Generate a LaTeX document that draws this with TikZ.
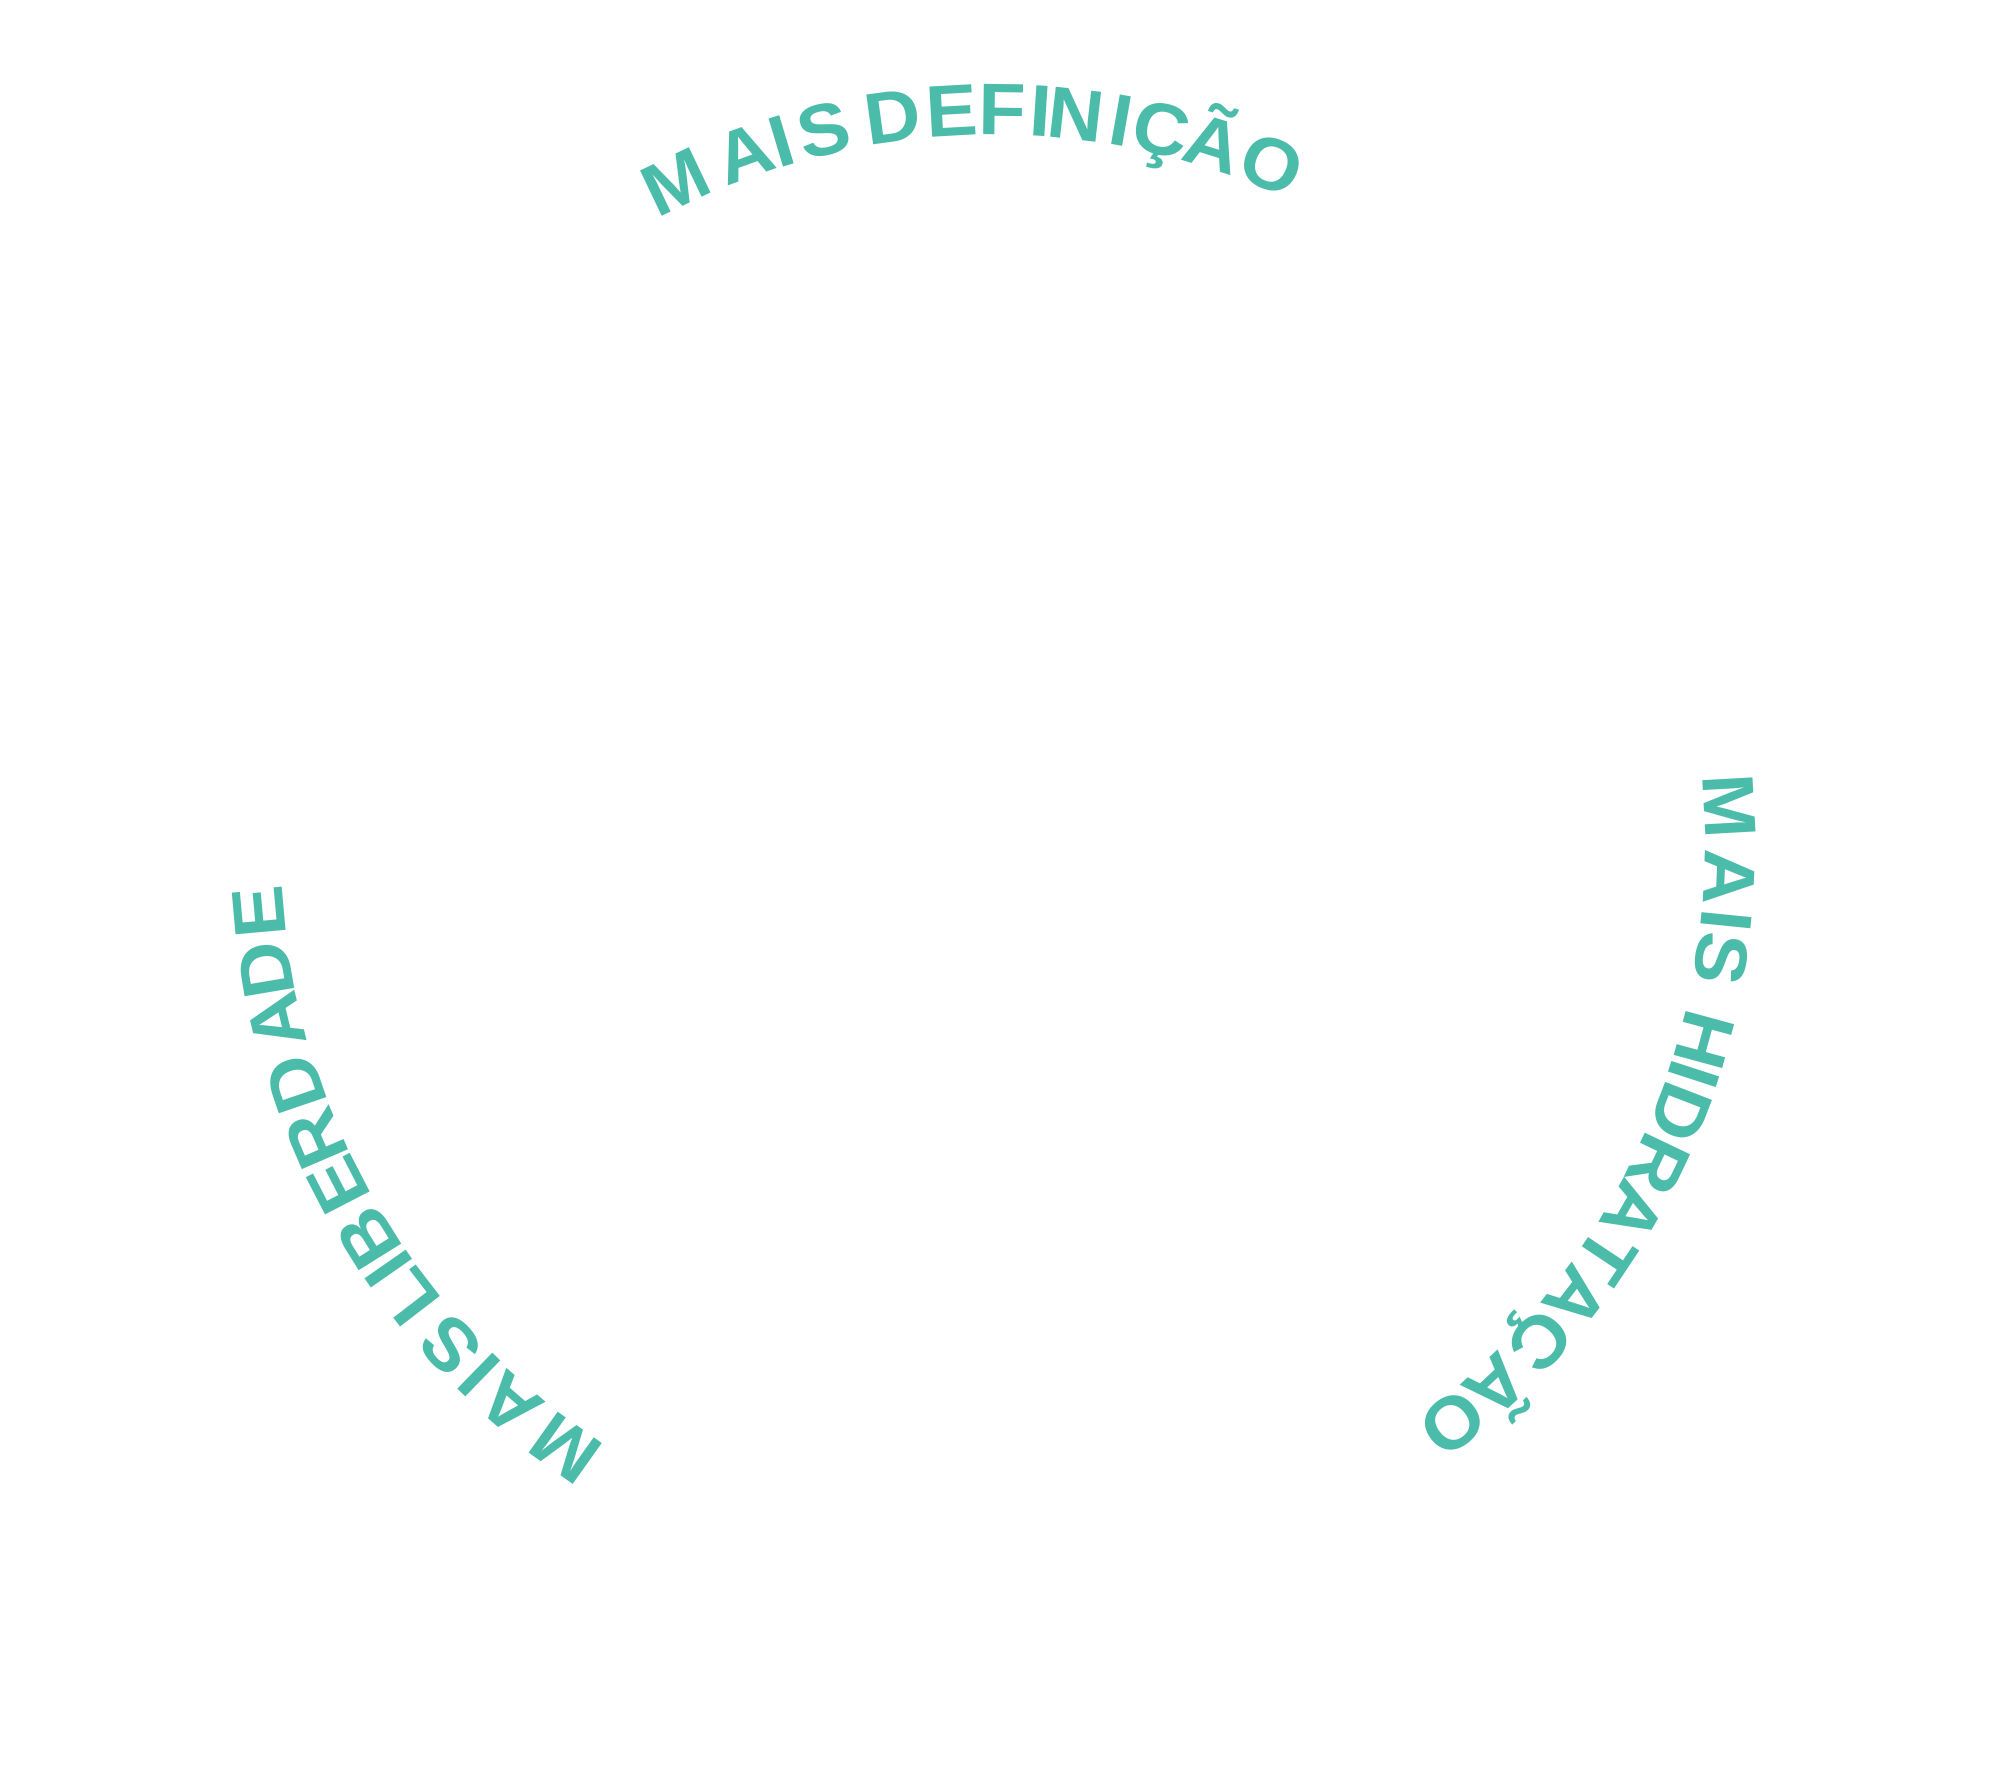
\documentclass[tikz,border=0pt]{standalone}
\usepackage{fontspec}
\setmainfont{Liberation Sans}[FakeStretch=1.06]
\definecolor{tealtxt}{RGB}{74,188,169}
\begin{document}
\begin{tikzpicture}[x=0.5pt,y=0.5pt,
  lett/.style={text=tealtxt, font=\fontsize{36.5}{44}\selectfont\bfseries, anchor=base, inner sep=0pt, outer sep=0pt}]
\useasboundingbox[fill=white] (0,-1775) rectangle (2000,0);
\coordinate (C) at (993,-847);
% MAIS DEFINIÇÃO (top)
\foreach \ch/\a [count=\i] in {M/115.5,A/109.7,I/106.7,S/103.3,D/97.8,E/93.2,F/89.3,I/86.3,N/83.5,I/80.0,Ç/76.8,Ã/72.6,O/67.8}{
  \pgfmathsetmacro\rot{\a-90}
  \node[lett, rotate=\rot] (def\i) at ([shift={(\a:712)}]C) {\ch};
}
% MAIS HIDRATAÇÃO (right)
\foreach \ch/\a [count=\i] in {M/3.2,A/-2.4,I/-5.7,S/-8.7,H/-15.2,I/-18.0,D/-21.1,R/-25.5,A/-29.7,T/-33.7,A/-37.7,Ç/-42.1,Ã/-47.0,O/-51.4}{
  \pgfmathsetmacro\rot{\a-90}
  \node[lett, rotate=\rot] (hid\i) at ([shift={(\a:712)}]C) {\ch};
}
% MAIS LIBERDADE (left)
\foreach \ch/\a [count=\i] in {M/234.6,A/229.1,I/225.8,S/222.6,L/217.6,I/214.9,B/212.0,E/207.3,R/203.3,D/198.8,A/193.7,D/189.6,E/185.1}{
  \pgfmathsetmacro\rot{\a-90}
  \node[lett, rotate=\rot] (lib\i) at ([shift={(\a:712)}]C) {\ch};
}
\end{tikzpicture}
\end{document}
